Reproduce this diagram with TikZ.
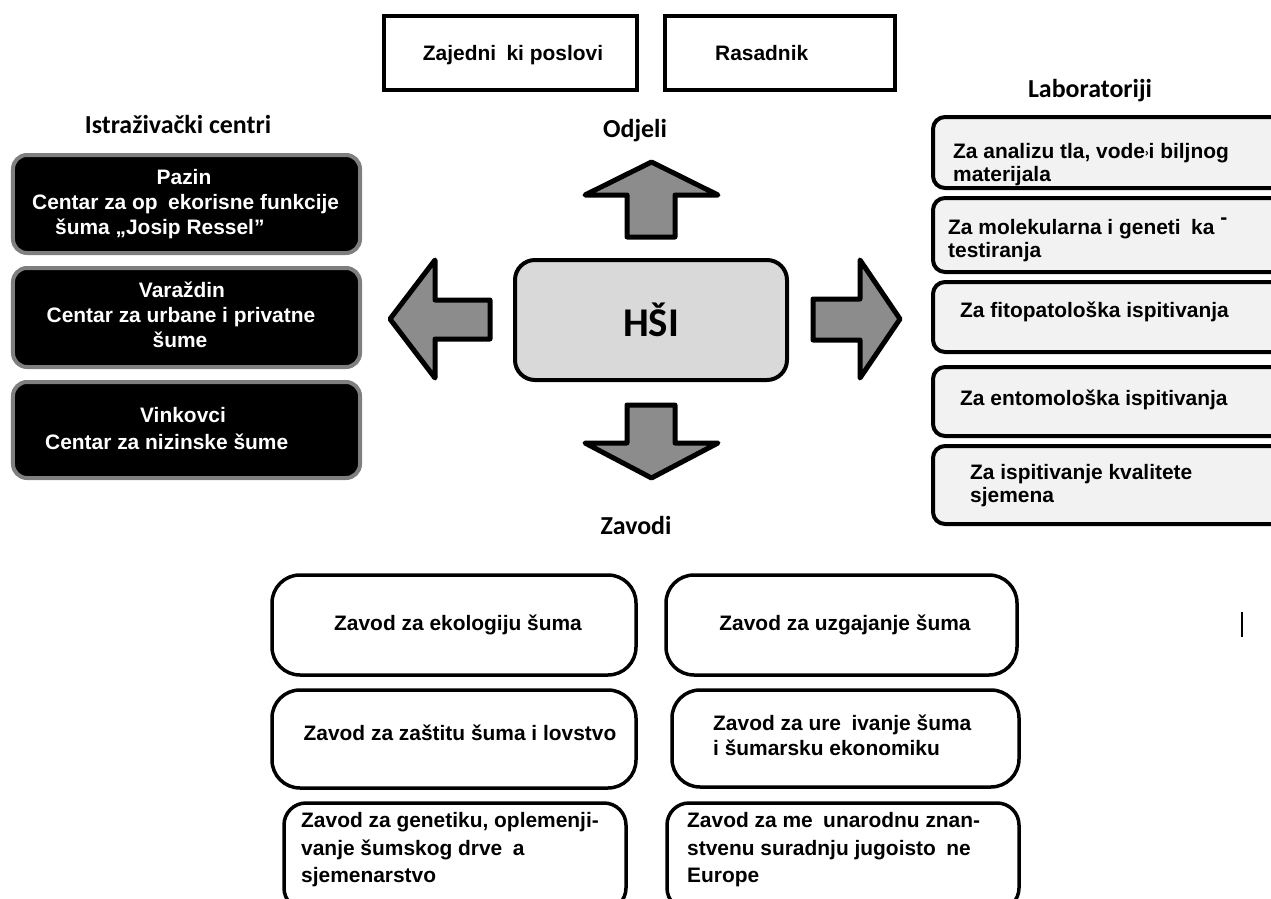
\documentclass[tikz,border=0pt]{standalone}
\usepackage{fontspec}
\setmainfont{Liberation Sans}
\newfontfamily\carlito{Carlito}
\definecolor{boxgray}{HTML}{7F7F7F}
\definecolor{labfill}{HTML}{F2F2F2}
\definecolor{hubfill}{HTML}{D9D9D9}
\definecolor{arrowgray}{HTML}{8C8C8C}
\tikzset{
  txt/.style={inner sep=0pt, font=\bfseries\fontsize{21}{25}\selectfont, anchor=base},
  wtxt/.style={txt, text=white},
  lbl/.style={inner sep=0pt, font=\carlito\bfseries\fontsize{26}{30}\selectfont, anchor=base},
  shp/.style={rectangle, inner sep=0pt, outer sep=0pt},
  darkbox/.style={shp, draw=boxgray, fill=black, line width=4bp, rounded corners=14bp},
  labbox/.style={shp, draw=black, fill=labfill, line width=4bp, rounded corners=12bp},
  zbox/.style={shp, draw=black, fill=white, line width=3.5bp, rounded corners=28bp},
  zboxlow/.style={zbox, rounded corners=22bp},
  topbox/.style={shp, draw=black, line width=4bp},
  hubbox/.style={shp, draw=black, fill=hubfill, line width=4bp, rounded corners=20bp,
     font=\carlito\bfseries\fontsize{41}{45}\selectfont},
  blockarrow/.style={draw=black, fill=arrowgray, line width=5bp, line join=round},
}
\newcommand{\gp}{\hspace{0.5em}}
\begin{document}
\begin{tikzpicture}[x=1bp,y=-1bp]
\useasboundingbox (0,0) rectangle (1271,899);

% top boxes
\node[topbox, minimum width=253bp, minimum height=74bp] (zaj) at (510.5,53) {};
\node[topbox, minimum width=230bp, minimum height=74bp] (ras) at (780,53) {};
\node[txt] (zajt) at (513,60) {Zajedni\gp ki poslovi};
\node[txt, anchor=base west] (rast) at (715,60) {Rasadnik};

% labels
\node[lbl] (istr) at (178,133) {Istraživački centri};
\node[lbl] (odj) at (635,137) {Odjeli};
\node[lbl] (lab) at (1090,97) {Laboratoriji};
\node[lbl] (zav) at (636,534) {Zavodi};

% hub
\node[hubbox, minimum width=272bp, minimum height=120bp] (hsi) at (651,320) {HŠI};

% block arrows
\draw[blockarrow] (627,237) -- (627,195) -- (585,195) -- (651.5,162) -- (718,195) -- (675,195) -- (675,237) -- cycle;
\draw[blockarrow] (627,405) -- (627,443) -- (585,443) -- (651.5,478) -- (718,443) -- (675,443) -- (675,405) -- cycle;
\draw[blockarrow] (490,300) -- (435,300) -- (435,260) -- (390,319) -- (435,378) -- (435,339) -- (490,339) -- cycle;
\draw[blockarrow] (813,299) -- (860,299) -- (860,260) -- (900,319) -- (860,378) -- (860,340) -- (813,340) -- cycle;

% left dark boxes
\node[darkbox, minimum width=347bp, minimum height=98bp] (b1) at (186.5,204) {};
\node[darkbox, minimum width=347bp, minimum height=99bp] (b2) at (186.5,317.5) {};
\node[darkbox, minimum width=347bp, minimum height=96bp] (b3) at (186.5,430) {};
\node[wtxt] (b1a) at (184,184) {Pazin};
\node[wtxt, anchor=base west] (b1b) at (32,209) {Centar za op\gp ekorisne funkcije};
\node[wtxt, anchor=base west] (b1c) at (55,234) {šuma „Josip Ressel”};
\node[wtxt] (b2a) at (182,297) {Varaždin};
\node[wtxt] (b2b) at (181,322) {Centar za urbane i privatne};
\node[wtxt] (b2c) at (180,347) {šume};
\node[wtxt] (b3a) at (183,422) {Vinkovci};
\node[wtxt, anchor=base west] (b3b) at (45,449) {Centar za nizinske šume};

% lab boxes
\node[labbox, minimum width=352bp, minimum height=71bp] (l1) at (1109,152.5) {};
\node[labbox, minimum width=352bp, minimum height=74bp] (l2) at (1109,235) {};
\node[labbox, minimum width=352bp, minimum height=70bp] (l3) at (1109,317) {};
\node[labbox, minimum width=352bp, minimum height=69bp] (l4) at (1109,401.5) {};
\node[labbox, minimum width=352bp, minimum height=78bp] (l5) at (1109,485) {};
\node[txt, anchor=base west] (l1a) at (953,158) {Za analizu tla, vode{\fontsize{11}{11}\selectfont\raisebox{2bp}{›}}i biljnog};
\node[txt, anchor=base west] (l1b) at (953,181) {materijala};
\node[txt, anchor=base west] (l2a) at (948,234) {Za molekularna i geneti\gp ka \raisebox{10bp}{-}};
\node[txt, anchor=base west] (l2b) at (948,257) {testiranja};
\node[txt, anchor=base west] (l3a) at (960,317) {Za fitopatološka ispitivanja};
\node[txt, anchor=base west] (l4a) at (960,405) {Za entomološka ispitivanja};
\node[txt, anchor=base west] (l5a) at (970,479) {Za ispitivanje kvalitete};
\node[txt, anchor=base west] (l5b) at (970,502) {sjemena};

% bottom boxes
\node[zbox, minimum width=364bp, minimum height=100bp] (z1) at (454,625) {};
\node[zbox, minimum width=351bp, minimum height=100bp] (z2) at (841.5,625) {};
\node[zbox, minimum width=364bp, minimum height=98bp] (z3) at (454,739) {};
\node[zbox, minimum width=347bp, minimum height=97bp] (z4) at (845.5,738.5) {};
\node[zboxlow, minimum width=342bp, minimum height=107bp] (z5) at (455,856.5) {};
\node[zboxlow, minimum width=352bp, minimum height=107bp] (z6) at (843,856.5) {};
\node[txt] (z1a) at (458,630) {Zavod za ekologiju šuma};
\node[txt] (z2a) at (845,630) {Zavod za uzgajanje šuma};
\node[txt] (z3a) at (460,740) {Zavod za zaštitu šuma i lovstvo};
\node[txt, anchor=base west] (z4a) at (713,730) {Zavod za ure\gp ivanje šuma};
\node[txt, anchor=base west] (z4b) at (713,755) {i šumarsku ekonomiku};
\node[txt, anchor=base west] (z5a) at (301,827) {Zavod za genetiku, oplemenji-};
\node[txt, anchor=base west] (z5b) at (301,855) {vanje šumskog drve\gp a};
\node[txt, anchor=base west] (z5c) at (301,882) {sjemenarstvo};
\node[txt, anchor=base west] (z6a) at (687,827) {Zavod za me\gp unarodnu znan-};
\node[txt, anchor=base west] (z6b) at (687,855) {stvenu suradnju jugoisto\gp ne};
\node[txt, anchor=base west] (z6c) at (687,882) {Europe};

% stray bar
\coordinate (bartop) at (1242,612);
\coordinate (barbot) at (1242,637);
\draw[line width=2bp] (bartop) -- (barbot);
\end{tikzpicture}
\end{document}
